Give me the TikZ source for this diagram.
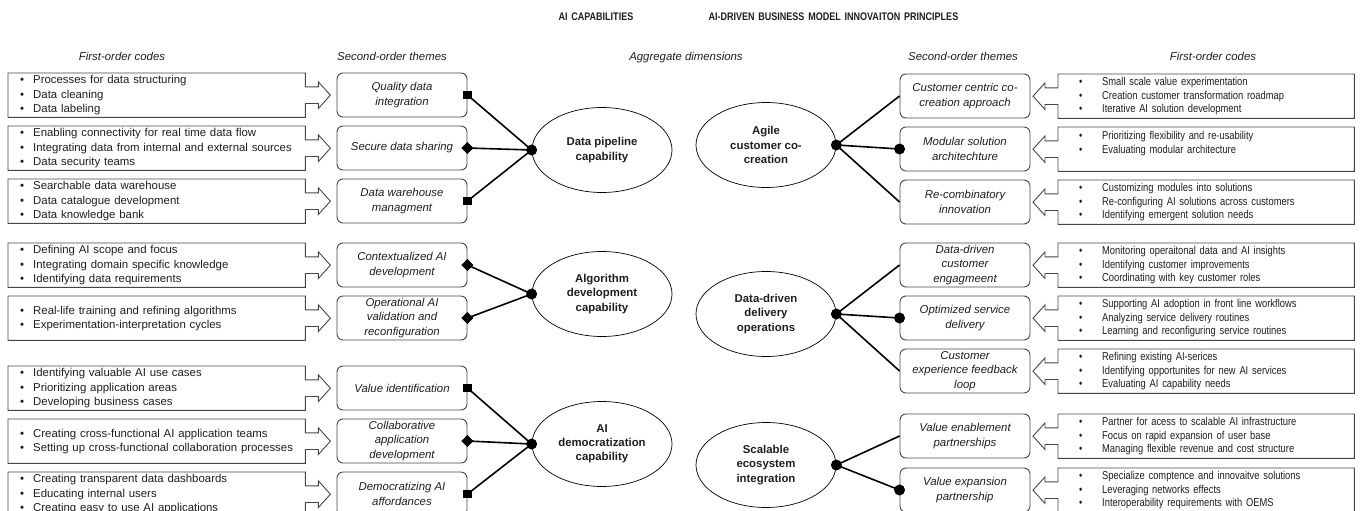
\documentclass[tikz,border=0pt]{standalone}
\usepackage{fontspec}
\setmainfont{Liberation Sans}
\newfontfamily\narrowsf[FakeStretch=0.82,WordSpace=1.5]{Liberation Sans}
\usetikzlibrary{calc,shapes.geometric}
\definecolor{ink}{RGB}{30,30,30}
\definecolor{edge}{RGB}{70,70,70}
\newcommand{\fsz}{\fontsize{11.4pt}{14.2pt}\selectfont}
\newcommand{\itm}{\makebox[13pt][l]{\textbullet}}
\newcommand{\itmr}{\makebox[23pt][l]{\textbullet}}
% outline of a code box with its arrow to the right / to the left
\newcommand{\arrR}[1]{%
  \draw[bxline] ($(#1.east)+(0,-8.3)$) -- (#1.north east) -- (#1.north west)
    -- (#1.south west) -- (#1.south east) -- ($(#1.east)+(0,8.3)$)
    -- ++(13,0) -- ++(0,5) -- ($(#1.east)+(25,0)$) -- ($(#1.east)+(13,-13.3)$)
    -- ++(0,5) -- cycle;}
\newcommand{\arrL}[1]{%
  \draw[bxline] ($(#1.west)+(0,-8.3)$) -- (#1.north west) -- (#1.north east)
    -- (#1.south east) -- (#1.south west) -- ($(#1.west)+(0,8.3)$)
    -- ++(-13,0) -- ++(0,5) -- ($(#1.west)+(-25,0)$) -- ($(#1.west)+(-13,-13.3)$)
    -- ++(0,5) -- cycle;}
\tikzset{
  codebx/.style={anchor=north west,text width=273pt,inner xsep=12pt,inner ysep=0pt,
                 minimum height=44pt,align=left,font=\fsz,text=ink},
  codebxr/.style={codebx,text width=254pt,inner xsep=21pt,
                  font={\narrowsf\fontsize{11.4pt}{13.7pt}\selectfont}},
  bxline/.style={draw=edge,line width=0.9pt},
  thm/.style={draw=edge,line width=0.9pt,rounded corners=6pt,minimum width=130pt,
              minimum height=44pt,align=center,font=\fsz\itshape,text=ink,inner sep=1pt},
  agg/.style={ellipse,draw=black,line width=0.7pt,minimum width=140pt,minimum height=85pt,
              inner sep=0pt,align=center,font=\fsz\bfseries,text=ink},
  lnk/.style={draw=black,line width=1.6pt},
  msq/.style={rectangle,fill=black,minimum size=8.5pt,inner sep=0pt},
  mdia/.style={msq,rotate=45},
  mdot/.style={circle,fill=black,minimum size=11pt,inner sep=0pt},
  hd/.style={anchor=west,font=\narrowsf\bfseries\fontsize{11pt}{13pt}\selectfont,text=ink},
  colh/.style={anchor=base,font=\fsz\itshape,text=ink},
}

\begin{document}
\begin{tikzpicture}[x=1pt,y=-1pt]
  \useasboundingbox (0,0) rectangle (1360,511);
  \clip (0,0) rectangle (1360,511);

  % headings
  \node[hd] (hcap) at (555,17) {AI CAPABILITIES};
  \node[hd] (hbmi) at (705,17) {AI-DRIVEN BUSINESS MODEL INNOVAITON PRINCIPLES};
  \node[colh] (h1) at (122,61)  {First-order codes};
  \node[colh] (h2) at (392,61)  {Second-order themes};
  \node[colh] (h3) at (686,61)  {Aggregate dimensions};
  \node[colh] (h4) at (963,61)  {Second-order themes};
  \node[colh] (h5) at (1213,61) {First-order codes};

  % left: first-order codes
  \node[codebx] (c1) at (8,73)  {\itm Processes for data structuring\\\itm Data cleaning\\\itm Data labeling};
  \node[codebx] (c2) at (8,126) {\itm Enabling connectivity for real time data flow\\
    \itm Integrating data from internal and external sources\\\itm Data security teams};
  \node[codebx] (c3) at (8,179) {\itm Searchable data warehouse\\\itm Data catalogue development\\
    \itm Data knowledge bank};
  \node[codebx] (c4) at (8,243) {\itm Defining AI scope and focus\\\itm Integrating domain specific knowledge\\
    \itm Identifying data requirements};
  \node[codebx] (c5) at (8,296) {\itm Real-life training and refining algorithms\\
    \itm Experimentation-interpretation cycles};
  \node[codebx] (c6) at (8,366) {\itm Identifying valuable AI use cases\\\itm Prioritizing application areas\\
    \itm Developing business cases};
  \node[codebx] (c7) at (8,419) {\itm Creating cross-functional AI application teams\\
    \itm Setting up cross-functional collaboration processes};
  \node[codebx] (c8) at (8,472) {\itm Creating transparent data dashboards\\\itm Educating internal users\\
    \itm Creating easy to use AI applications};
  \arrR{c1} \arrR{c2} \arrR{c3} \arrR{c4} \arrR{c5} \arrR{c6} \arrR{c7} \arrR{c8}

  % left: second-order themes
  \node[thm] (q1) at (402,95)  {Quality data\\integration};
  \node[thm] (q2) at (402,148) {Secure data sharing};
  \node[thm] (q3) at (402,201) {Data warehouse\\managment};
  \node[thm] (q4) at (402,265) {Contextualized AI\\development};
  \node[thm] (q5) at (402,318) {Operational AI\\validation and\\reconfiguration};
  \node[thm] (q6) at (402,388) {Value identification};
  \node[thm] (q7) at (402,441) {Collaborative\\application\\development};
  \node[thm] (q8) at (402,494) {Democratizing AI\\affordances};

  % aggregate dimensions
  \node[agg] (dp)  at (602,150) {Data pipeline\\capability};
  \node[agg] (alg) at (602,294) {Algorithm\\development\\capability};
  \node[agg] (dem) at (602,444) {AI\\democratization\\capability};
  \node[agg] (ag)  at (766,145) {Agile\\customer co-\\creation};
  \node[agg] (ddo) at (766,314) {Data-driven\\delivery\\operations};
  \node[agg] (sei) at (766,465) {Scalable\\ecosystem\\integration};

  % right: second-order themes
  \node[thm] (r1) at (965,96)  {Customer centric co-\\creation approach};
  \node[thm] (r2) at (965,149) {Modular solution\\architechture};
  \node[thm] (r3) at (965,202) {Re-combinatory\\innovation};
  \node[thm] (r4) at (965,265) {Data-driven\\customer\\engagmeent};
  \node[thm] (r5) at (965,318) {Optimized service\\delivery};
  \node[thm] (r6) at (965,371) {Customer\\experience feedback\\loop};
  \node[thm] (r7) at (965,436) {Value enablement\\partnerships};
  \node[thm] (r8) at (965,490) {Value expansion\\partnership};

  % right: first-order codes
  \node[codebxr] (d1) at (1058,74)  {\itmr Small scale value experimentation\\
    \itmr Creation customer transformation roadmap\\\itmr Iterative AI solution development};
  \node[codebxr] (d2) at (1058,127) {\itmr Prioritizing flexibility and re-usability\\
    \itmr Evaluating modular architecture\\\mbox{}};
  \node[codebxr] (d3) at (1058,180) {\itmr Customizing modules into solutions\\
    \itmr Re-configuring AI solutions across customers\\\itmr Identifying emergent solution needs};
  \node[codebxr] (d4) at (1058,243) {\itmr Monitoring operaitonal data and AI insights\\
    \itmr Identifying customer improvements\\\itmr Coordinating with key customer roles};
  \node[codebxr] (d5) at (1058,296) {\itmr Supporting AI adoption in front line workflows\\
    \itmr Analyzing service delivery routines\\\itmr Learning and reconfiguring service routines};
  \node[codebxr] (d6) at (1058,349) {\itmr Refining existing AI-serices\\
    \itmr Identifying opportunites for new AI services\\\itmr Evaluating AI capability needs};
  \node[codebxr] (d7) at (1058,414) {\itmr Partner for acess to scalable AI infrastructure\\
    \itmr Focus on rapid expansion of user base\\\itmr Managing flexible revenue and cost structure};
  \node[codebxr] (d8) at (1058,468) {\itmr Specialize comptence and innovaitve solutions\\
    \itmr Leveraging networks effects\\\itmr Interoperability requirements with OEMS};
  \arrL{d1} \arrL{d2} \arrL{d3} \arrL{d4} \arrL{d5} \arrL{d6} \arrL{d7} \arrL{d8}

  % links, left
  \draw[lnk] (q1.east) -- (dp.west);  \draw[lnk] (q2.east) -- (dp.west);  \draw[lnk] (q3.east) -- (dp.west);
  \draw[lnk] (q4.east) -- (alg.west); \draw[lnk] (q5.east) -- (alg.west);
  \draw[lnk] (q6.east) -- (dem.west); \draw[lnk] (q7.east) -- (dem.west); \draw[lnk] (q8.east) -- (dem.west);
  % links, right
  \draw[lnk] (ag.east)  -- (r1.west); \draw[lnk] (ag.east)  -- (r2.west); \draw[lnk] (ag.east)  -- (r3.west);
  \draw[lnk] (ddo.east) -- (r4.west); \draw[lnk] (ddo.east) -- (r5.west); \draw[lnk] (ddo.east) -- (r6.west);
  \draw[lnk] (sei.east) -- (r7.west); \draw[lnk] (sei.east) -- (r8.west);

  % end marks
  \node[msq]  at (q1.east) {}; \node[mdia] at (q2.east) {}; \node[msq] at (q3.east) {};
  \node[mdia] at (q4.east) {}; \node[mdia] at (q5.east) {};
  \node[msq]  at (q6.east) {}; \node[mdia] at (q7.east) {}; \node[msq] at (q8.east) {};
  \node[mdot] at (dp.west) {}; \node[mdot] at (alg.west) {}; \node[mdot] at (dem.west) {};
  \node[mdot] at (ag.east) {}; \node[mdot] at (ddo.east) {}; \node[mdot] at (sei.east) {};
  \node[mdot] at (r2.west) {}; \node[mdot] at (r5.west) {}; \node[mdot] at (r8.west) {};
\end{tikzpicture}
\end{document}
